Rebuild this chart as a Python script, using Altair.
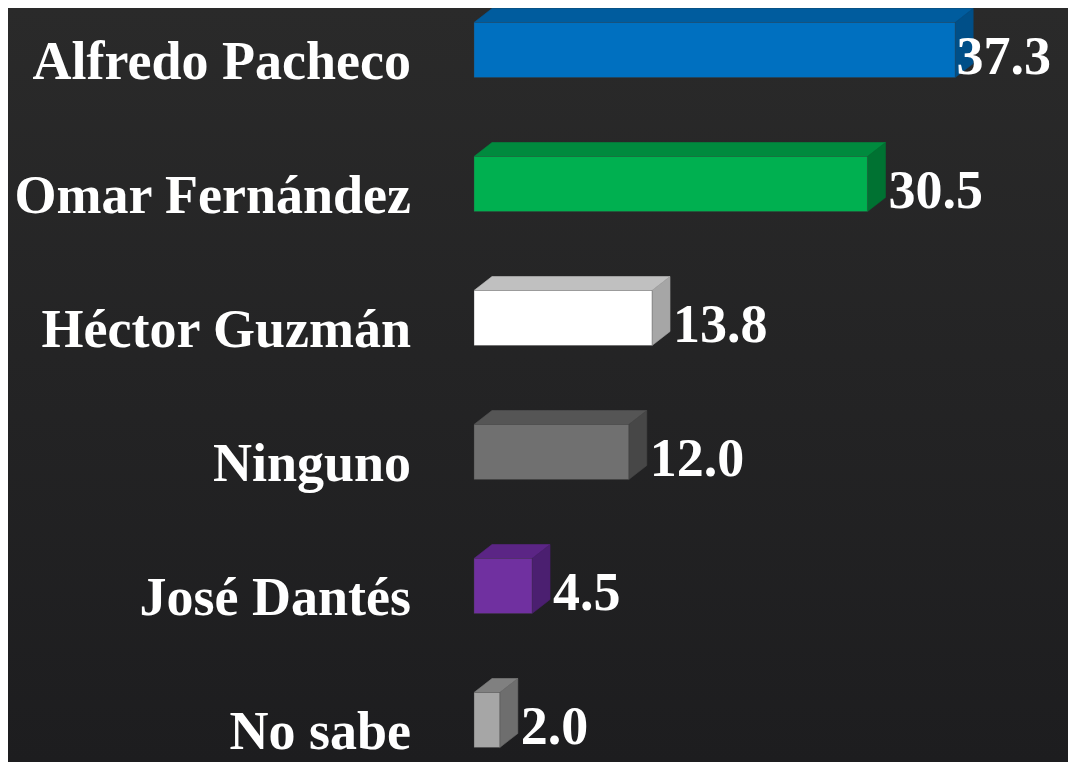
import altair as alt
import pandas as pd

# ---- data ----
names = ["Alfredo Pacheco", "Omar Fernández", "Héctor Guzmán", "Ninguno", "José Dantés", "No sabe"]
values = [37.3, 30.5, 13.8, 12.0, 4.5, 2.0]
front_colors = ["#0070C0", "#00B050", "#FFFFFF", "#707070", "#7030A0", "#A6A6A6"]
top_colors = ["#005C9E", "#008A3E", "#C0C0C0", "#555555", "#5B2585", "#808080"]
side_colors = ["#004F88", "#007232", "#A6A6A6", "#474747", "#4B1F70", "#6E6E6E"]

# ---- layout (style) ----
W, H = 1060, 754
X0_PX = 466.0        # pixel position of value 0
PX_PER_UNIT = 12.9
ROW0_PX = 42.0       # centre of first row
ROW_PX = 134.0       # row spacing
HALF_H = 27.5 / ROW_PX
DEPTH_Y = 14.0 / ROW_PX
DEPTH_X = 18.0 / PX_PER_UNIT
LABEL_GAP = 3.0 / PX_PER_UNIT
LABEL_X_MAX = 37.4

x_dom = [-X0_PX / PX_PER_UNIT, (W - X0_PX) / PX_PER_UNIT]
y_dom = [-ROW0_PX / ROW_PX, (H - ROW0_PX) / ROW_PX]
xs = alt.Scale(domain=x_dom, nice=False, zero=False)
ys = alt.Scale(domain=y_dom, nice=False, zero=False, reverse=True)

front_rows, top_rows, side_rows = [], [], []
for i, (n, v) in enumerate(zip(names, values)):
    front_rows.append(dict(name=n, i=i, v=v, x0=0.0, y0=i - HALF_H, y1=i + HALF_H,
                           col=front_colors[i],
                           lx=min(v + DEPTH_X + LABEL_GAP, LABEL_X_MAX)))
    top_rows.append(dict(name=n, y=i - HALF_H, xa=0.0, xb=v, col=top_colors[i]))
    top_rows.append(dict(name=n, y=i - HALF_H - DEPTH_Y, xa=DEPTH_X, xb=v + DEPTH_X, col=top_colors[i]))
    side_rows.append(dict(name=n, x=v, ya=i - HALF_H, yb=i + HALF_H, col=side_colors[i]))
    side_rows.append(dict(name=n, x=v + DEPTH_X, ya=i - HALF_H - DEPTH_Y, yb=i + HALF_H - DEPTH_Y,
                          col=side_colors[i]))

front = pd.DataFrame(front_rows)
top = pd.DataFrame(top_rows)
side = pd.DataFrame(side_rows)

bg = alt.Chart(pd.DataFrame({"a": [0]})).mark_rect(
    color=alt.Gradient(gradient="linear",
                       stops=[alt.GradientStop(color="#2A2A2A", offset=0),
                              alt.GradientStop(color="#1D1D1F", offset=1)],
                       x1=0, x2=0, y1=0, y2=1)
).encode(x=alt.value(0), x2=alt.value(W), y=alt.value(0), y2=alt.value(H))

top_layer = alt.Chart(top).mark_area(orient="horizontal", strokeWidth=0.6).encode(
    y=alt.Y("y:Q", scale=ys, axis=None),
    x=alt.X("xa:Q", scale=xs, axis=None, stack=None),
    x2="xb:Q",
    detail="name:N",
    color=alt.Color("col:N", scale=None),
    stroke=alt.Stroke("col:N", scale=None),
)

side_layer = alt.Chart(side).mark_area(orient="vertical", strokeWidth=0.6).encode(
    x=alt.X("x:Q", scale=xs, axis=None),
    y=alt.Y("ya:Q", scale=ys, axis=None, stack=None),
    y2="yb:Q",
    detail="name:N",
    color=alt.Color("col:N", scale=None),
    stroke=alt.Stroke("col:N", scale=None),
)

front_layer = alt.Chart(front).mark_rect(stroke="#3A3A3A", strokeWidth=0.6, strokeOpacity=0.6).encode(
    x=alt.X("x0:Q", scale=xs, axis=None),
    x2="v:Q",
    y=alt.Y("y0:Q", scale=ys, axis=None),
    y2="y1:Q",
    color=alt.Color("col:N", scale=None),
)

name_labels = alt.Chart(front).mark_text(
    align="right", baseline="alphabetic", dy=29,
    font="Liberation Serif", fontWeight="bold", fontSize=54, color="#FFFFFF"
).encode(
    x=alt.value(403),
    y=alt.Y("i:Q", scale=ys, axis=None),
    text="name:N",
)

value_labels = alt.Chart(front).mark_text(
    align="left", baseline="alphabetic", dy=24,
    font="Liberation Serif", fontWeight="bold", fontSize=54, color="#FFFFFF"
).encode(
    x=alt.X("lx:Q", scale=xs, axis=None),
    y=alt.Y("i:Q", scale=ys, axis=None),
    text=alt.Text("v:Q", format=".1f"),
)

chart = alt.layer(bg, top_layer, side_layer, front_layer, name_labels, value_labels).properties(
    width=W, height=H, autosize=alt.AutoSizeParams(type="none"), padding=0,
    background="#262626",
).configure_view(stroke=None)

chart.save("out.html", embed_options={"renderer": "svg", "actions": False})
